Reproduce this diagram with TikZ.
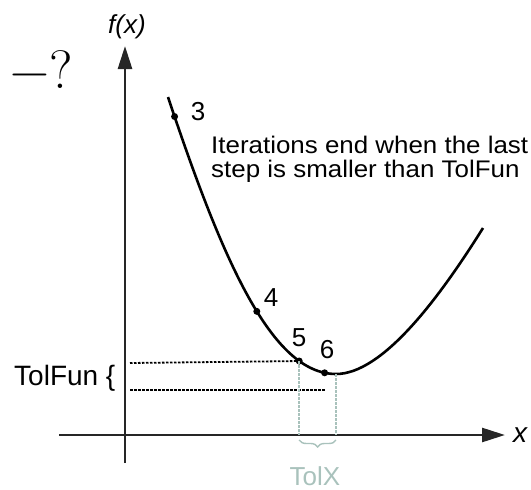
\documentclass[tikz,border=0pt]{standalone}
\usepackage{fontspec}
\newfontfamily\arialfont{Liberation Sans}
\usetikzlibrary{calc, arrows.meta, decorations.pathreplacing}
\definecolor{tolxcolor}{HTML}{A9C2BC}

\begin{document}
\begin{tikzpicture}[x=1pt, y=-1pt,
    axis/.style={line width=2.6pt, draw=black!85, -{Triangle[length=23pt, width=14pt]}},
    curve/.style={line width=2.6pt},
    guide/.style={line width=1.8pt, dash pattern=on 2.5pt off 1.5pt},
    xguide/.style={guide, draw=tolxcolor},
    dotpt/.style={circle, fill=black, inner sep=0pt, minimum size=7pt},
    lbl/.style={font=\arialfont\fontsize{26}{26}\selectfont, inner sep=0pt},
  ]
    \useasboundingbox (0,0) rectangle (531,490);

    % axes
    \coordinate (xstart) at (59,435);
    \coordinate (xend) at (505,435);
    \coordinate (ystart) at (125,463);
    \coordinate (yend) at (125,46);
    \draw[axis] (xstart) -- (xend);
    \draw[axis] (ystart) -- (yend);
    \node[lbl, font=\arialfont\itshape\fontsize{26}{26}\selectfont] (fx) at (127,27) {f(x)};
    \node[lbl, font=\arialfont\itshape\fontsize{28}{28}\selectfont] (xlbl) at (520,435) {x};
    \node[inner sep=0pt, font=\fontsize{54}{54}\selectfont] (q) at (42,70) {−?};

    % the curve, with the iterates on it
    \coordinate (c0) at (168,97);
    \coordinate (pmin) at (336,374);
    \coordinate (c9) at (483,228);
    \draw[curve] (c0) .. controls (223,262) and (272,374) .. (pmin)
        coordinate[pos=0.04] (p3) coordinate[pos=0.55] (p4)
        coordinate[pos=0.8] (p5) coordinate[pos=0.94] (p6)
      .. controls (382,374) and (438,300) .. (c9);
    \foreach \p in {p3,p4,p5,p6}
      \node[dotpt] at (\p) {};
    \node[lbl] (n3) at (198,112) {3};
    \node[lbl] (n4) at (271,298) {4};
    \node[lbl] (n5) at (299,338) {5};
    \node[lbl] (n6) at (327,350) {6};

    \node[lbl, font=\arialfont\fontsize{24}{24}\selectfont, xscale=1.08, align=left, anchor=base west] (note) at (211,177)
      {Iterations end when the last\\step is smaller than TolFun};

    % TolFun band
    \coordinate (fa) at (130,363);
    \coordinate (fb) at (130,390);
    \coordinate (fc) at (326,390);
    \draw[guide] (fa) -- (p5);
    \draw[guide] (fb) -- (fc);
    \node[lbl, font=\arialfont\fontsize{28}{28}\selectfont, anchor=base west] (tolfun) at (14,385) {TolFun \{};

    % TolX band
    \coordinate (xa) at (p5 |- xstart);
    \coordinate (xb) at (pmin |- xstart);
    \draw[xguide] (p5) -- (xa);
    \draw[xguide] (pmin) -- (xb);
    \draw[tolxcolor, line width=1.4pt, decorate, decoration={brace, mirror, amplitude=7pt}]
      ($(xa)+(0,5)$) -- ($(xb)+(0,5)$);
    \node[lbl, text=tolxcolor, anchor=base] (tolx) at (315,485) {TolX};
\end{tikzpicture}
\end{document}
